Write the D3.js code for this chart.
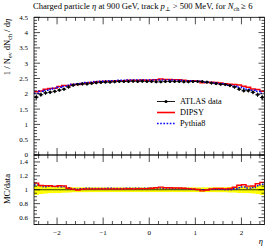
<!DOCTYPE html>
<html><head><meta charset="utf-8">
<script src="https://cdn.jsdelivr.net/npm/d3@7/dist/d3.min.js"></script>
<style>body{margin:0;background:#fff}svg{display:block}text{font-family:"Liberation Serif","DejaVu Serif",serif;fill:#000}</style>
</head><body><svg id="c" width="274" height="248"></svg>
<script>
// bin edges: 50 bins of width 0.1 from -2.5 to 2.5
const binLow = d3.range(50).map(i => -2.5 + i * 0.1);
const atlas = [1.89,1.97,2.03,2.05,2.08,2.12,2.15,2.22,2.28,2.31,2.32,2.32,2.34,2.36,2.37,2.38,2.38,2.39,2.40,2.40,2.40,2.41,2.40,2.41,2.40,
               2.40,2.39,2.39,2.40,2.40,2.40,2.40,2.39,2.39,2.40,2.40,2.40,2.38,2.35,2.33,2.31,2.30,2.27,2.22,2.15,2.10,2.10,2.05,1.97,1.88];
const atlasErr = [0.14,0.12,0.11,0.10,0.10,0.10,0.09,0.09,0.08,0.08,0.08,0.08,0.08,0.08,0.08,0.08,0.08,0.08,0.08,0.08,0.08,0.08,0.08,0.08,0.08,
                  0.08,0.08,0.08,0.08,0.08,0.08,0.08,0.08,0.08,0.08,0.08,0.08,0.08,0.08,0.08,0.08,0.08,0.09,0.09,0.10,0.10,0.10,0.11,0.12,0.14];
const dipsy = [2.07,2.09,2.15,2.17,2.18,2.24,2.27,2.27,2.30,2.30,2.34,2.35,2.37,2.39,2.40,2.41,2.41,2.42,2.43,2.43,2.44,2.44,2.44,2.45,2.44,
               2.45,2.46,2.48,2.47,2.47,2.46,2.46,2.44,2.43,2.43,2.41,2.36,2.37,2.38,2.37,2.35,2.33,2.31,2.30,2.29,2.25,2.21,2.16,2.14,2.08];
const pythia = [2.02,2.08,2.12,2.15,2.18,2.21,2.25,2.28,2.31,2.33,2.35,2.37,2.38,2.40,2.41,2.42,2.43,2.43,2.44,2.44,2.45,2.45,2.45,2.45,2.45,
                2.45,2.45,2.45,2.45,2.45,2.44,2.44,2.43,2.43,2.42,2.41,2.40,2.38,2.37,2.35,2.33,2.31,2.28,2.25,2.21,2.18,2.15,2.12,2.08,2.02];
const yTicksMain = [0,0.5,1,1.5,2,2.5,3,3.5,4,4.5];
const yTicksRatio = [0.6,0.8,1,1.2,1.4];
const xTicks = [-2,-1,0,1,2];
const legendNames = ["ATLAS data","DIPSY","Pythia8"];

const svg = d3.select("#c");
const L = 34, R = 264.5, T = 17.3, M = 155, B = 224.5;
const x = d3.scaleLinear().domain([-2.5,2.5]).range([L,R]);
const y = d3.scaleLinear().domain([0,4.5]).range([M,T]);
const yr = d3.scaleLinear().domain([0.5,1.5]).range([B,M]);

function fmt(v){ return (Math.round(v*10)/10).toString(); }

const defs = svg.append("defs");
defs.append("clipPath").attr("id","cm").append("rect").attr("x",L).attr("y",T).attr("width",R-L).attr("height",M-T);
defs.append("clipPath").attr("id","cr").append("rect").attr("x",L).attr("y",M).attr("width",R-L).attr("height",B-M);

function stepPath(vals, ys){
  let d = "";
  vals.forEach((v,i)=>{
    const x0 = x(binLow[i]), x1 = x(binLow[i]+0.1), yy = ys(v);
    d += (i===0 ? "M"+x0+","+yy : "L"+x0+","+yy) + "L"+x1+","+yy;
  });
  return d;
}
const BLUE = "#0000ff", DOTS = "1.6,1.6";

// ratio band (data uncertainty)
const ratioG = svg.append("g").attr("clip-path","url(#cr)");
binLow.forEach((b,i)=>{
  const lo = 1 - atlasErr[i]/atlas[i], hi = 1 + atlasErr[i]/atlas[i];
  ratioG.append("rect").attr("x",x(b)).attr("width",x(b+0.1)-x(b)+0.3)
    .attr("y",yr(hi)).attr("height",yr(lo)-yr(hi)).attr("fill","#ffff00");
});
ratioG.append("line").attr("x1",L).attr("x2",R).attr("y1",yr(1)).attr("y2",yr(1)).attr("stroke","#000").attr("stroke-width",0.8);
ratioG.append("path").attr("d",stepPath(pythia.map((v,i)=>v/atlas[i]),yr)).attr("fill","none").attr("stroke",BLUE).attr("stroke-width",1.5).attr("stroke-dasharray",DOTS);
ratioG.append("path").attr("d",stepPath(dipsy.map((v,i)=>v/atlas[i]),yr)).attr("fill","none").attr("stroke","#ff0000").attr("stroke-width",1.4);

// main panel
const mainG = svg.append("g").attr("clip-path","url(#cm)");
mainG.append("path").attr("d",stepPath(dipsy,y)).attr("fill","none").attr("stroke","#ff0000").attr("stroke-width",1.5);
mainG.append("path").attr("d",stepPath(pythia,y)).attr("fill","none").attr("stroke",BLUE).attr("stroke-width",1.5).attr("stroke-dasharray",DOTS);
binLow.forEach((b,i)=>{
  const xc = x(b+0.05), yc = y(atlas[i]);
  const e = atlasErr[i]*0.6;
  mainG.append("line").attr("x1",xc).attr("x2",xc).attr("y1",y(atlas[i]-e)).attr("y2",y(atlas[i]+e)).attr("stroke","#000").attr("stroke-width",0.9);
  mainG.append("line").attr("x1",x(b)).attr("x2",x(b+0.1)).attr("y1",yc).attr("y2",yc).attr("stroke","#000").attr("stroke-width",0.9);
  mainG.append("circle").attr("cx",xc).attr("cy",yc).attr("r",1.4).attr("fill","#000");
});

// frames
[[T,M],[M,B]].forEach(([t,b])=>{
  svg.append("rect").attr("x",L).attr("y",t).attr("width",R-L).attr("height",b-t).attr("fill","none").attr("stroke","#000").attr("stroke-width",0.8);
});

const tk = svg.append("g").attr("stroke","#000").attr("stroke-width",0.7);
function hline(yy,len){
  tk.append("line").attr("x1",L).attr("x2",L+len).attr("y1",yy).attr("y2",yy);
  tk.append("line").attr("x1",R).attr("x2",R-len).attr("y1",yy).attr("y2",yy);
}
d3.range(0,46).forEach(k=>{ const v=k/10; hline(y(v), (k%5===0)?6:3); });
d3.range(10,31).forEach(k=>{ const v=k*0.05; hline(yr(v), (k%4===0)?6:3); });
function vticks(yy,dir){
  d3.range(-12,13).forEach(k=>{
    const v=k*0.2; const major = Math.abs(v-Math.round(v))<1e-6;
    const len = major?7:3.5;
    tk.append("line").attr("x1",x(v)).attr("x2",x(v)).attr("y1",yy).attr("y2",yy+dir*len);
  });
}
vticks(T,1); vticks(M,-1); vticks(M,1); vticks(B,-1);

const lab = svg.append("g").attr("font-size",7);
yTicksMain.forEach(v=>{
  lab.append("text").attr("x",28).attr("y",y(v)+2.4).attr("text-anchor","end").text(fmt(v));
});
yTicksRatio.forEach(v=>{
  lab.append("text").attr("x",28).attr("y",yr(v)+2.4).attr("text-anchor","end").text(fmt(v));
});
xTicks.forEach(v=>{
  lab.append("text").attr("x",x(v)).attr("y",235).attr("text-anchor","middle").text(v<0?"\u2212"+(-v):v);
});

svg.append("text").attr("x",263).attr("y",244).attr("text-anchor","end").attr("font-size",8.5).attr("font-style","italic").text("η");
const yl = svg.append("text").attr("transform","translate(10,47) rotate(-90)").attr("text-anchor","middle").attr("font-size",8.6);
yl.append("tspan").text("1 / N");
yl.append("tspan").attr("font-size",6).attr("dy",1.5).text("ev");
yl.append("tspan").attr("dy",-1.5).text(" dN");
yl.append("tspan").attr("font-size",6).attr("dy",1.5).text("ch");
yl.append("tspan").attr("dy",-1.5).text(" / d");
yl.append("tspan").attr("font-style","italic").text("η");
svg.append("text").attr("transform","translate(10,189) rotate(-90)").attr("text-anchor","middle").attr("font-size",8.6).text("MC/data");

const tt = svg.append("text").attr("x",33).attr("y",9).attr("font-size",8.6);
tt.append("tspan").text("Charged particle ");
tt.append("tspan").attr("font-style","italic").text("η");
tt.append("tspan").text(" at 900 GeV, track ");
tt.append("tspan").attr("font-style","italic").text("p");
tt.append("tspan").attr("font-size",6).attr("dy",1.5).text("⊥");
tt.append("tspan").attr("dy",-1.5).text(" > 500 MeV, for ");
tt.append("tspan").attr("font-style","italic").text("N");
tt.append("tspan").attr("font-size",6).attr("dy",1.5).text("ch");
tt.append("tspan").attr("dy",-1.5).text(" ≥ 6");

const lg = svg.append("g");
const ly = [101.5,112.5,123.5];
lg.append("line").attr("x1",157).attr("x2",175).attr("y1",ly[0]).attr("y2",ly[0]).attr("stroke","#000").attr("stroke-width",0.9);
lg.append("circle").attr("cx",166).attr("cy",ly[0]).attr("r",1.5).attr("fill","#000");
lg.append("line").attr("x1",157).attr("x2",175).attr("y1",ly[1]).attr("y2",ly[1]).attr("stroke","#ff0000").attr("stroke-width",1.6);
lg.append("line").attr("x1",157).attr("x2",175).attr("y1",ly[2]).attr("y2",ly[2]).attr("stroke",BLUE).attr("stroke-width",1.5).attr("stroke-dasharray",DOTS);
legendNames.forEach((n,i)=>{
  lg.append("text").attr("x",180).attr("y",ly[i]+2.8).attr("font-size",8.3).text(n);
});
</script></body></html>
